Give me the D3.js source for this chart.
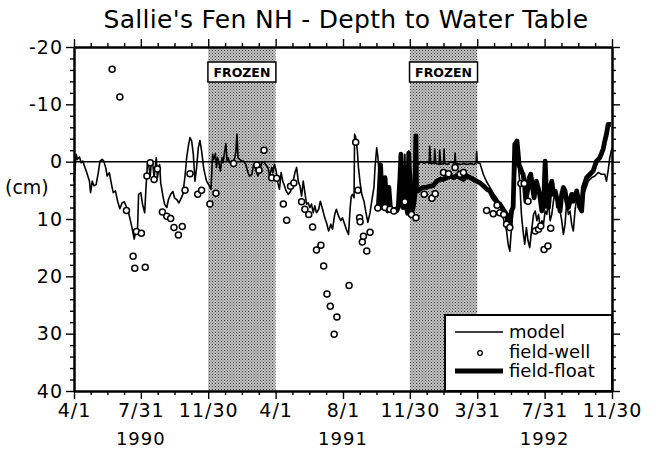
<!DOCTYPE html>
<html>
<head>
<meta charset="utf-8">
<script src="https://cdn.jsdelivr.net/npm/d3@7"></script>
<style>
  body { margin: 0; background: #fff; }
  text { font-family: "DejaVu Sans", Verdana, sans-serif; fill: #000; }
</style>
</head>
<body>
<script>
// days are counted from 4/1/1990, depths in cm (negative = above surface)
var modelDay = [0,4,6,10,13,16,18,23,28,30,33,36,40,44,47,51,54,58,60,64,68,71,75,79,83,87,91,94,98,101,105,109,112,115,117,121,124,128,130,133,135,138,140,142,145,149,151,155,157,161,164,168,171,175,179,182,186,190,193,197,
  201,204,207,210,213,216,219,222,225,228,231,235,240,245,248,251,253,256,258,260,263,265,268,270,272,275,277,279,282,285,288,291,293,295,297,300,304,307,311,315,318,322,325,329,333,336,340,344,347,351,354,358,360,363,366,369,372,375,378,381,384,388,392,395,
  398,400,403,406,409,412,415,418,421,424,427,430,433,436,439,443,446,450,454,457,461,465,468,472,475,479,483,486,490,493,497,500,502,504,507,508,510,513,515,518,521,525,528,532,536,539,543,545,548,550,552,555,557,560,563,566,569,572,575,579,583,587,590,593,
  596,599,601,604,606,609,612,615,618,622,628,634,640,643,644,646,652,653,655,661,662,664,669,670,671,676,682,689,690,691,700,706,712,718,724,728,729,730,735,741,747,753,759,765,771,777,780,783,786,789,792,795,798,801,804,807,810,813,816,819,822,825,829,832,835,838,841,844,847,850,853,856,859,862,865,868,871,874,877,880,883,886,889,892,895,898,901,904,907,910,913,916,919,925,931,937,943,949,955,961,964,967,970,974];
var modelCm = [3.4,-1.3,-0.4,-0.8,0.2,-0.1,0.5,1.9,3.4,5.4,3.4,4.2,4.0,1.9,-0.1,-0.4,-0.1,1.3,2.5,1.9,4.0,5.4,5.1,6.9,8.2,7.2,7.0,7.7,8.6,9.8,11.5,13.5,12.1,11.8,5.7,5.4,7.4,8.9,5.1,0.2,0.5,2.5,0.2,-0.2,2.8,-0.7,2.8,0.5,3.7,6.0,7.4,8.0,6.6,5.7,5.2,6.3,6.6,7.2,6.6,5.7,
  2.5,-0.7,-2.7,-4.2,-3.6,-1.3,3.4,1.0,-2.4,-3.7,-1.9,1.3,3.4,4.2,4.8,-1.3,-0.4,-1.4,1.0,-0.7,0.5,1.6,-0.7,0.2,-1.3,-3.1,-0.1,-0.7,0.2,-0.1,0.2,-0.7,-1.7,-4.8,-0.7,-0.4,-0.1,-0.1,0.5,1.9,2.5,2.2,0.5,1.3,2.5,1.6,0.2,0.0,0.5,1.0,2.5,1.0,1.9,0.5,1.6,3.7,4.8,1.9,3.4,4.2,5.1,5.7,5.2,4.0,
  2.8,1.9,1.0,3.4,4.2,6.0,3.4,5.4,7.4,7.2,8.0,7.4,8.9,7.7,8.9,8.3,6.9,8.3,9.8,10.6,12.1,10.9,11.8,9.2,8.3,9.5,10.3,9.8,10.9,11.8,12.7,8.0,6.0,5.7,6.3,-4.8,-4.2,-1.9,1.0,3.7,5.7,6.9,8.6,10.6,8.9,6.9,4.5,1.0,-2.4,-1.0,1.6,3.4,5.1,6.9,8.0,6.6,8.0,8.6,8.3,8.6,8.0,7.4,5.7,3.4,
  4.0,-1.3,6.0,7.0,-1.9,3.0,7.0,2.0,-0.5,0.5,0.0,0.3,0.0,0.3,-2.7,0.3,0.3,-2.2,0.3,0.5,-2.0,0.5,0.3,-2.2,0.3,0.5,0.0,0.3,-1.5,0.3,0.5,0.3,0.5,0.3,0.5,0.2,-1.8,0.2,0.3,2.2,3.5,4.5,5.5,6.3,7.4,9.8,10.9,12.0,14.4,15.6,11.5,7.4,3.4,-1.3,0.5,3.4,9.2,12.1,14.4,11.5,13.8,15.0,11.5,9.2,8.6,10.3,9.2,11.5,10.3,10.9,8.6,9.2,6.9,10.3,9.2,6.9,5.1,8.0,6.9,8.6,10.3,12.7,10.9,6.9,9.2,8.6,10.9,12.1,8.6,6.3,8.0,7.4,5.7,5.1,3.4,2.8,2.5,1.9,2.2,2.2,3.4,1.6,-0.7,-2.4];

var floatDay = [551,555,558,560,563,566,568,570,573,576,580,584,587,590,592,594,596,598,600,602,604,606,608,611,614,617,619,620,623,626,632,638,643,650,657,662,668,675,681,687,693,699,705,711,717,723,729,735,741,747,753,759,765,771,777,783,786,789,792,795,798,802,806,808,811,813,815,818,821,824,827,830,833,837,840,843,847,850,853,856,859,862,865,868,871,874,877,880,883,886,889,892,895,898,901,904,910,916,919,922,928,934,940,946,952,958,961,964,967,972];
var floatCm = [8.0,0.5,7.5,8.0,2.8,7.0,8.6,4.5,8.3,8.6,8.3,8.6,8.0,3.0,-1.3,5.0,8.0,7.5,1.0,8.0,9.0,-1.5,3.0,9.0,8.0,6.0,-4.5,4.5,5.1,4.8,4.5,4.5,4.3,4.2,3.4,3.1,3.1,2.8,2.5,2.8,2.5,2.8,3.1,2.5,2.8,3.1,3.4,3.7,4.2,4.8,5.1,6.3,6.9,7.4,8.3,9.2,11.0,11.5,8.6,8.0,-3.0,-3.6,0.7,1.0,1.9,2.2,3.4,6.9,5.1,2.8,2.2,4.5,6.3,3.4,4.5,5.7,8.6,8.0,-0.1,7.4,8.0,4.5,3.4,5.7,5.1,6.3,6.9,8.6,5.7,4.5,5.1,6.9,8.0,6.9,5.7,6.9,5.1,8.0,8.6,4.5,2.8,2.2,1.6,-0.1,-0.7,-2.2,-3.6,-4.8,-6.5,-6.5];

var wellDay = [69,83,95,107,110,113,122,129,132,138,145,151,160,168,175,181,189,196,201,210,224,231,246,257,289,331,335,344,358,367,379,385,392,398,412,418,425,432,439,447,452,458,464,471,476,498,510,514,517,518,522,524,530,536,550,563,572,579,599,611,619,634,648,654,669,678,690,699,705,747,759,766,771,778,783,789,809,815,822,835,841,845,851,858,863];
var wellCm = [-16.1,-11.3,8.5,16.5,18.6,12.2,12.5,18.4,2.5,0.2,3.1,1.3,8.8,9.5,9.9,11.5,12.8,11.3,5.0,2.1,5.7,5.0,7.4,5.5,0.3,0.6,1.5,-2.0,2.8,2.9,7.4,10.2,4.3,3.7,7.0,8.3,9.2,11.4,15.4,14.6,18.2,23.1,25.2,30.1,27.1,21.6,-3.4,5.0,9.8,10.5,14.0,13.0,15.6,12.3,8.1,8.0,8.3,8.6,7.0,9.2,9.8,5.7,6.4,5.6,1.9,2.1,1.0,2.2,1.9,8.5,9.1,7.6,8.9,9.2,10.9,11.5,3.8,3.8,6.9,12.1,11.8,11.2,15.3,14.7,11.6];

var frozenStart = ["1990-11-30", "1991-11-30"];
var frozenEnd = ["1991-04-01", "1992-03-31"];
var tickDates = ["1990-04-01","1990-07-31","1990-11-30","1991-04-01","1991-08-01","1991-11-30","1992-03-31","1992-07-31","1992-11-30"];
var tickLabels = ["4/1","7/31","11/30","4/1","8/1","11/30","3/31","7/31","11/30"];
var yearLabels = ["1990","1991","1992"];
var yearAt = ["1990-07-31","1991-08-01","1992-07-31"];

var margin = {top: 47, right: 44, bottom: 58, left: 74},
    width = 656 - margin.left - margin.right,
    height = 449 - margin.top - margin.bottom;

var parse = d3.utcParse("%Y-%m-%d");
var start = parse("1990-04-01");
function dayDate(d) { return d3.utcDay.offset(start, d); }

var x = d3.scaleUtc().domain([start, parse("1992-11-30")]).range([0, width]);
var y = d3.scaleLinear().domain([-20, 40]).range([0, height]);

var svg = d3.select("body").append("svg")
    .attr("width", 656)
    .attr("height", 449);

// stipple for the frozen periods
var pat = svg.append("defs").append("pattern")
    .attr("id", "stip")
    .attr("width", 3).attr("height", 3)
    .attr("patternUnits", "userSpaceOnUse");
pat.append("rect").attr("width", 3).attr("height", 3).attr("fill", "#c4c4c4");
pat.append("rect").attr("width", 1).attr("height", 1).attr("fill", "#3a3a3a");
pat.append("rect").attr("x", 1.5).attr("y", 1.5).attr("width", 1).attr("height", 1).attr("fill", "#555");

svg.append("text")
    .attr("x", 346).attr("y", 28)
    .attr("text-anchor", "middle")
    .style("font-size", "25px")
    .style("letter-spacing", "0.3px")
    .text("Sallie's Fen NH - Depth to Water Table");

var g = svg.append("g")
    .attr("transform", "translate(" + margin.left + "," + margin.top + ")");

var frozen = frozenStart.map(function(s, i) { return {s: parse(s), e: parse(frozenEnd[i])}; });

g.selectAll(".frozen")
    .data(frozen)
  .enter().append("rect")
    .attr("x", function(d) { return x(d.s); })
    .attr("width", function(d) { return x(d.e) - x(d.s); })
    .attr("y", 0)
    .attr("height", height)
    .attr("fill", "url(#stip)");

// zero line
g.append("line")
    .attr("x1", 0).attr("x2", width)
    .attr("y1", y(0)).attr("y2", y(0))
    .attr("stroke", "#000").attr("stroke-width", 1.5);

var model = modelDay.map(function(d, i) { return {date: dayDate(d), cm: modelCm[i]}; });
var flt = floatDay.map(function(d, i) { return {date: dayDate(d), cm: floatCm[i]}; });
var well = wellDay.map(function(d, i) { return {date: dayDate(d), cm: wellCm[i]}; });

var line = d3.line()
    .x(function(d) { return x(d.date); })
    .y(function(d) { return y(d.cm); });

g.append("path")
    .datum(model)
    .attr("fill", "none")
    .attr("stroke", "#000")
    .attr("stroke-width", 1.6)
    .attr("stroke-linejoin", "round")
    .attr("d", line);

g.append("path")
    .datum(flt)
    .attr("fill", "none")
    .attr("stroke", "#000")
    .attr("stroke-width", 4.8)
    .attr("stroke-linejoin", "round")
    .attr("d", line);

g.selectAll(".well")
    .data(well)
  .enter().append("circle")
    .attr("cx", function(d) { return x(d.date); })
    .attr("cy", function(d) { return y(d.cm); })
    .attr("r", 3)
    .attr("fill", "#fff")
    .attr("stroke", "#000")
    .attr("stroke-width", 1.5);

// FROZEN labels
var fl = g.selectAll(".flab")
    .data(frozen)
  .enter().append("g")
    .attr("transform", function(d) { return "translate(" + ((x(d.s) + x(d.e)) / 2) + ",0)"; });
fl.append("rect")
    .attr("x", -34).attr("y", 15)
    .attr("width", 68).attr("height", 20)
    .attr("fill", "#fff")
    .attr("stroke", "#000")
    .attr("stroke-width", 1.5);
fl.append("text")
    .attr("y", 30)
    .attr("text-anchor", "middle")
    .style("font-size", "12.5px")
    .style("font-weight", "bold")
    .text("FROZEN");

// legend
var lg = g.append("g").attr("transform", "translate(" + (width - 167) + "," + (height - 76) + ")");
lg.append("rect")
    .attr("width", 167).attr("height", 76)
    .attr("fill", "#fff").attr("stroke", "#000").attr("stroke-width", 2);
lg.append("line").attr("x1", 10).attr("x2", 58).attr("y1", 17).attr("y2", 17)
    .attr("stroke", "#000").attr("stroke-width", 1.5);
lg.append("circle").attr("cx", 35).attr("cy", 38).attr("r", 2.3)
    .attr("fill", "#fff").attr("stroke", "#000").attr("stroke-width", 1.3);
lg.append("line").attr("x1", 10).attr("x2", 58).attr("y1", 56).attr("y2", 56)
    .attr("stroke", "#000").attr("stroke-width", 4.8);
lg.selectAll(".lt")
    .data(["model", "field-well", "field-float"])
  .enter().append("text")
    .attr("x", 64)
    .attr("y", function(d, i) { return 23 + i * 19.5; })
    .style("font-size", "18px")
    .text(function(d) { return d; });

// axes
var majors = tickDates.map(parse);
var minors = [];
for (var i = 0; i < majors.length - 1; i++) {
  var a = +majors[i], b = +majors[i + 1];
  for (var k = 1; k < 4; k++) minors.push(new Date(a + (b - a) * k / 4));
}
var yMajors = [-20, -10, 0, 10, 20, 30, 40];
var yMinors = d3.range(-18, 40, 2).filter(function(v) { return v % 10; });

var xAxis = d3.axisBottom(x).tickValues(majors).tickSize(8).tickSizeOuter(0)
    .tickFormat(function(d, i) { return tickLabels[i]; });
var xMinor = d3.axisBottom(x).tickValues(minors).tickSize(4).tickSizeOuter(0).tickFormat("");
var yAxis = d3.axisLeft(y).tickValues(yMajors).tickSize(8).tickSizeOuter(0)
    .tickFormat(function(d) { return String(d); });
var yMinor = d3.axisLeft(y).tickValues(yMinors).tickSize(4).tickSizeOuter(0).tickFormat("");

g.append("g").attr("class", "axis").attr("transform", "translate(0," + height + ")").call(xAxis);
g.append("g").attr("class", "axis").attr("transform", "translate(0," + height + ")").call(xMinor);
g.append("g").attr("class", "axis").call(d3.axisTop(x).tickValues(majors).tickSize(8).tickSizeOuter(0).tickFormat(""));
g.append("g").attr("class", "axis").call(d3.axisTop(x).tickValues(minors).tickSize(4).tickSizeOuter(0).tickFormat(""));
g.append("g").attr("class", "axis").call(yAxis);
g.append("g").attr("class", "axis").call(yMinor);
g.append("g").attr("class", "axis").attr("transform", "translate(" + width + ",0)")
    .call(d3.axisRight(y).tickValues(yMajors).tickSize(8).tickSizeOuter(0).tickFormat(""));
g.append("g").attr("class", "axis").attr("transform", "translate(" + width + ",0)")
    .call(d3.axisRight(y).tickValues(yMinors).tickSize(4).tickSizeOuter(0).tickFormat(""));

g.selectAll(".axis path").attr("stroke", "#000").attr("stroke-width", 2);
g.selectAll(".axis line").attr("stroke", "#000").attr("stroke-width", 1.4);
g.selectAll(".axis text")
    .style("font-family", "'DejaVu Sans', sans-serif")
    .style("font-size", "19px")
    .style("letter-spacing", "1px")
    .attr("fill", "#000");
g.selectAll(".axis text").filter(function() { return this.getAttribute("dy") === "0.71em"; })
    .attr("y", 13);

g.selectAll(".year")
    .data(yearLabels)
  .enter().append("text")
    .attr("x", function(d, i) { return x(parse(yearAt[i])); })
    .attr("y", height + 54)
    .attr("text-anchor", "middle")
    .style("font-size", "18px")
    .style("letter-spacing", "1px")
    .text(function(d) { return d; });

svg.append("text")
    .attr("x", 5).attr("y", 194)
    .style("font-size", "19px")
    .text("(cm)");
</script>
</body>
</html>
